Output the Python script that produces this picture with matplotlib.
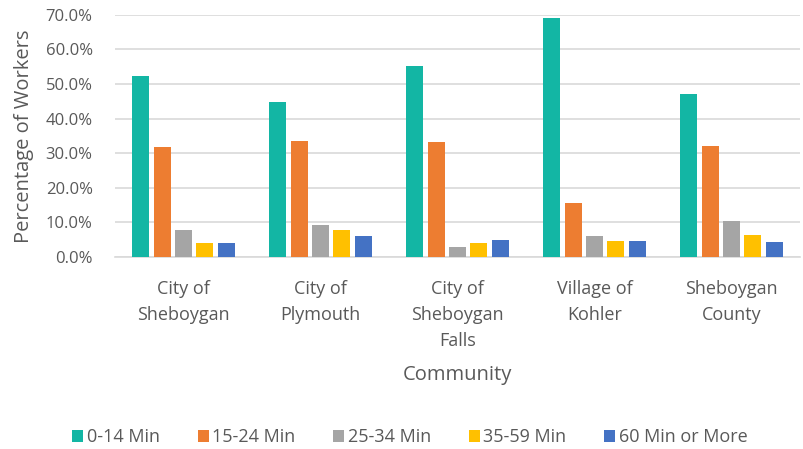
import numpy as np
import matplotlib.pyplot as plt
from matplotlib.ticker import PercentFormatter

plt.rcParams['font.family'] = ['Open Sans', 'DejaVu Sans']

communities = ['City of\nSheboygan', 'City of\nPlymouth', 'City of\nSheboygan\nFalls',
               'Village of\nKohler', 'Sheboygan\nCounty']
series = ['0-14 Min', '15-24 Min', '25-34 Min', '35-59 Min', '60 Min or More']
min_0_14 = [52.4, 44.7, 55.2, 69.1, 47.1]
min_15_24 = [31.7, 33.4, 33.1, 15.7, 32.0]
min_25_34 = [7.7, 9.2, 2.9, 6.0, 10.5]
min_35_59 = [3.9, 7.7, 3.9, 4.6, 6.3]
min_60_plus = [3.9, 6.0, 4.9, 4.6, 4.3]
colors = ['#13B6A4', '#ED7D31', '#A5A5A5', '#FFC000', '#4472C4']

values = [min_0_14, min_15_24, min_25_34, min_35_59, min_60_plus]
txt = '#595959'

fig = plt.figure(figsize=(8.04, 4.49), dpi=100)
ax = fig.add_axes([0.143, 0.428, 0.852, 0.539])

x = np.arange(len(communities))
step = 0.156
width = 0.125
for i, (name, vals, col) in enumerate(zip(series, values, colors)):
    ax.bar(x + (i - 2) * step, vals, width=width, color=col, label=name, zorder=3)

ax.set_ylim(0, 70)
ax.set_xlim(-0.5, len(communities) - 0.5)
ax.set_yticks(np.arange(0, 71, 10))
ax.yaxis.set_major_formatter(PercentFormatter(decimals=1))
ax.grid(axis='y', color='#D9D9D9', linewidth=1.2, zorder=0)
for s in ['top', 'right', 'left']:
    ax.spines[s].set_visible(False)
ax.spines['bottom'].set_color('#D9D9D9')
ax.spines['bottom'].set_linewidth(1.2)
ax.tick_params(length=0, colors=txt)
ax.tick_params(axis='y', labelsize=12, pad=16)
ax.set_xticks(x)
ax.set_xticklabels(communities, linespacing=1.55, fontsize=13)
ax.tick_params(axis='x', pad=17)

ax.set_ylabel('Percentage of Workers', fontsize=14.5, color=txt, labelpad=0)
ax.yaxis.set_label_coords(-0.118, 0.5)
ax.set_xlabel('Community', fontsize=14.5, color=txt, labelpad=11)

fig.legend(loc='lower center', ncol=5, frameon=False, fontsize=13,
           bbox_to_anchor=(0.51, -0.03), handlelength=0.6, handleheight=0.6,
           handletextpad=0.2, columnspacing=2.1, labelcolor=txt)

fig.savefig('out.png', dpi=100)
